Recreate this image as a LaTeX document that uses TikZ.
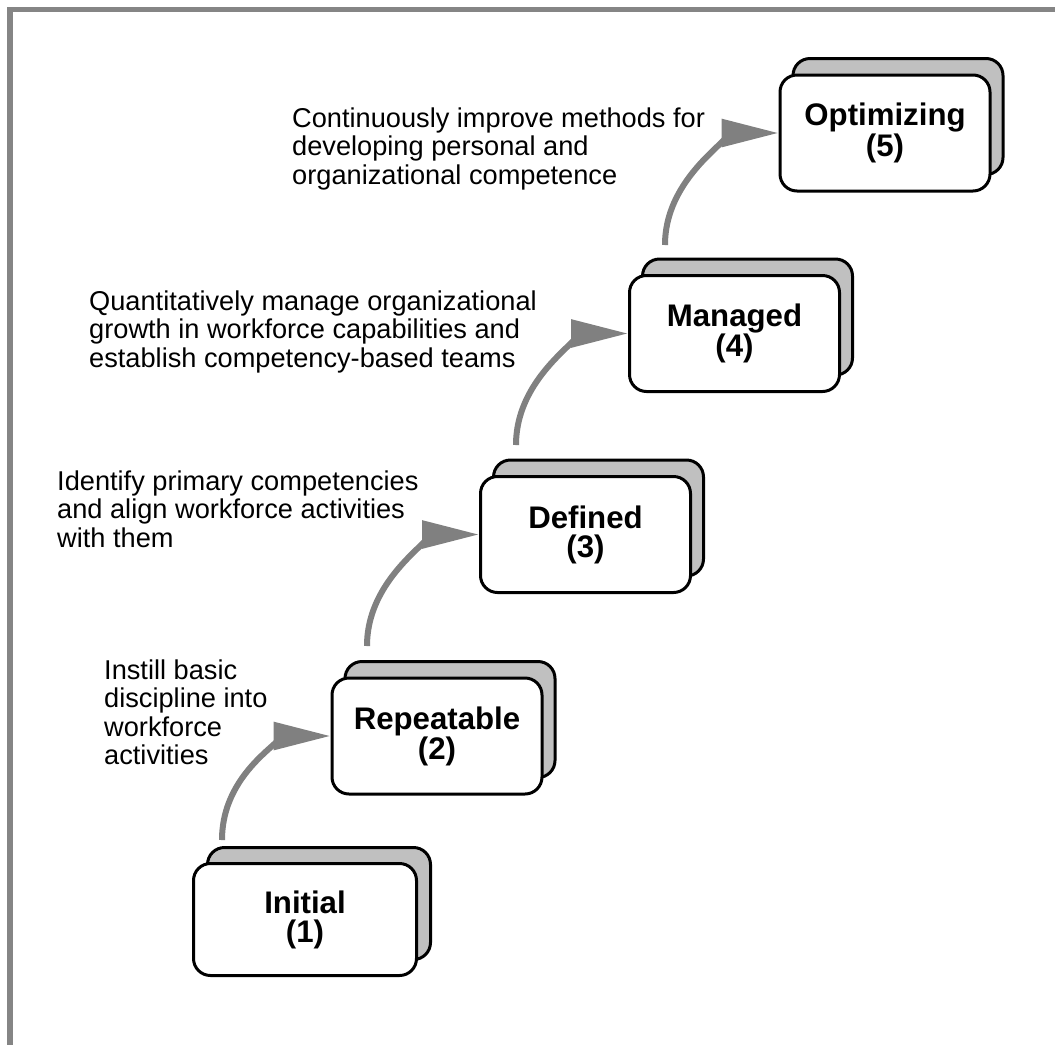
\documentclass[tikz,border=0pt]{standalone}
\usepackage{fontspec}
\setmainfont{Liberation Sans}
\usetikzlibrary{arrows.meta,calc}
\definecolor{boxgray}{HTML}{C0C0C0}
\definecolor{arrowgray}{HTML}{808080}
\definecolor{framegray}{HTML}{858585}
\begin{document}
\begin{tikzpicture}[x=1pt,y=-1pt,
  frontbox/.style={draw=black, line width=3pt, rounded corners=17pt, fill=white,
    minimum width=210pt, minimum height=116pt, inner sep=0pt, align=center,
    font=\bfseries\fontsize{31.2}{29}\selectfont},
  backbox/.style={draw=black, line width=3pt, rounded corners=17pt, fill=boxgray,
    minimum width=210pt, minimum height=116pt, inner sep=0pt},
  flow/.style={draw=arrowgray, line width=6pt, -{Triangle[length=57pt,width=27pt]}},
  desc/.style={anchor=north west, inner sep=0pt, align=left,
    font=\fontsize{27.2}{28.4}\selectfont}
]
\useasboundingbox (0,0) rectangle (1055,1045);
% frame
\fill[framegray] (7,7) rectangle (1055,12.3);
\fill[framegray] (7,7) rectangle (12.5,1045);

% back boxes
\node[backbox, minimum width=223pt, minimum height=112pt] (b1) at (319,903.5) {};
\node[backbox] (b2) at (450,719.5) {};
\node[backbox] (b3) at (598.5,518) {};
\node[backbox] (b4) at (747.5,317) {};
\node[backbox] (b5) at (898,116.5) {};

% front boxes
\node[frontbox, minimum width=223pt, minimum height=112pt] (f1) at (305,919.5) {Initial\\(1)};
\node[frontbox] (f2) at (437,736) {Repeatable\\(2)};
\node[frontbox] (f3) at (585.5,534.5) {Defined\\(3)};
\node[frontbox] (f4) at (734.5,333.5) {Managed\\(4)};
\node[frontbox] (f5) at (885,133) {Optimizing\\(5)};

% arrow start points
\coordinate (s1) at (222,840);
\coordinate (s2) at (367,646);
\coordinate (s3) at (516,445);
\coordinate (s4) at (665,245);

\draw[flow] (s1) .. controls ($(s1)+(0,-75)$) and ($(f2.west)+(-32,0)$) .. (f2.west);
\draw[flow] (s2) .. controls ($(s2)+(0,-75)$) and ($(f3.west)+(-32,0)$) .. (f3.west);
\draw[flow] (s3) .. controls ($(s3)+(0,-75)$) and ($(f4.west)+(-32,0)$) .. (f4.west);
\draw[flow] (s4) .. controls ($(s4)+(0,-75)$) and ($(f5.west)+(-32,0)$) .. (f5.west);

% descriptions
\node[desc] (d5) at (292,107.5) {Continuously improve methods for\\developing personal and\\organizational competence};
\node[desc] (d4) at (89,290.5) {Quantitatively manage organizational\\growth in workforce capabilities and\\establish competency-based teams};
\node[desc] (d3) at (57,470.5) {Identify primary competencies\\and align workforce activities\\with them};
\node[desc] (d2) at (104,659.5) {Instill basic\\discipline into\\workforce\\activities};
\end{tikzpicture}
\end{document}
